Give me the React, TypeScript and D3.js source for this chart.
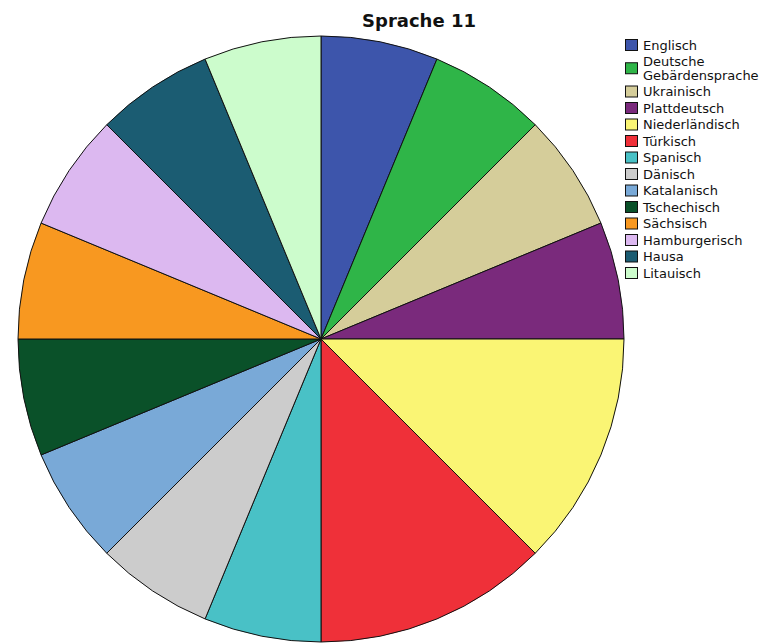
import React from "react";
import * as d3 from "d3";

// Languages and their counts for "Sprache 11"
const categories: string[] = [
  "Englisch",
  "Deutsche Gebärdensprache",
  "Ukrainisch",
  "Plattdeutsch",
  "Niederländisch",
  "Türkisch",
  "Spanisch",
  "Dänisch",
  "Katalanisch",
  "Tschechisch",
  "Sächsisch",
  "Hamburgerisch",
  "Hausa",
  "Litauisch",
];

const counts: number[] = [1, 1, 1, 1, 2, 2, 1, 1, 1, 1, 1, 1, 1, 1];

const colors: string[] = [
  "#3d55ab",
  "#2fb548",
  "#d5cd9a",
  "#7a2a7c",
  "#faf574",
  "#ef3039",
  "#49c1c6",
  "#cccccc",
  "#79a9d7",
  "#0a5129",
  "#f89820",
  "#dcb8f0",
  "#1b5c72",
  "#ccfccc",
];

// Legend labels, broken into lines
const legendLines: string[][] = [
  ["Englisch"],
  ["Deutsche", "Gebärdensprache"],
  ["Ukrainisch"],
  ["Plattdeutsch"],
  ["Niederländisch"],
  ["Türkisch"],
  ["Spanisch"],
  ["Dänisch"],
  ["Katalanisch"],
  ["Tschechisch"],
  ["Sächsisch"],
  ["Hamburgerisch"],
  ["Hausa"],
  ["Litauisch"],
];

const W = 773;
const H = 643;
const cx = 321;
const cy = 339;
const radius = 303;

export default function App() {
  const pie = d3
    .pie<number>()
    .sort(null)
    .value((d) => d);
  const arcs = pie(counts);
  const arcGen = d3.arc<d3.PieArcDatum<number>>().innerRadius(0).outerRadius(radius);

  // legend row positions
  const rowStep = 16.5;
  const lineStep = 13.5;
  let y = 45;
  const rows = legendLines.map((lines) => {
    const h = (lines.length - 1) * lineStep;
    const center = y + h / 2;
    const r = { lines, top: y, center };
    y += rowStep + h;
    return r;
  });

  return (
    <svg
      width={W}
      height={H}
      style={{ position: "absolute", left: 0, top: 0, background: "#ffffff" }}
      fontFamily="DejaVu Sans, sans-serif"
    >
      <text
        x={419}
        y={27}
        textAnchor="middle"
        fontSize={18}
        fontWeight="bold"
        fill="#111"
      >
        Sprache 11
      </text>
      <g transform={`translate(${cx},${cy})`}>
        {arcs.map((a, i) => (
          <path
            key={categories[i]}
            d={arcGen(a) || ""}
            fill={colors[i]}
            stroke="#111"
            strokeWidth={1}
            strokeLinejoin="round"
          />
        ))}
      </g>
      <g>
        {rows.map((r, i) => (
          <g key={categories[i]}>
            <rect
              x={625.5}
              y={r.center - 5.5}
              width={12}
              height={11}
              fill={colors[i]}
              stroke="#111"
              strokeWidth={1}
            />
            {r.lines.map((ln, j) => (
              <text
                key={ln}
                x={643}
                y={r.top + j * lineStep + 4.6}
                fontSize={13}
                fill="#111"
              >
                {ln}
              </text>
            ))}
          </g>
        ))}
      </g>
    </svg>
  );
}
